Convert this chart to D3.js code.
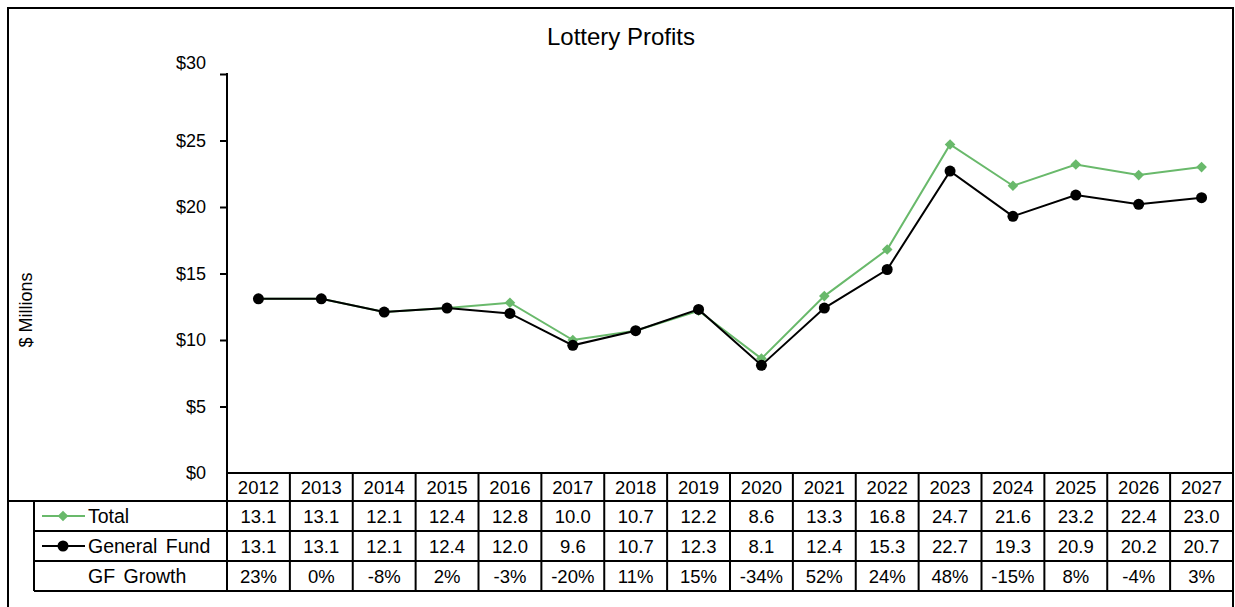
<!DOCTYPE html>
<html>
<head>
<meta charset="utf-8">
<script src="https://cdn.jsdelivr.net/npm/d3@7"></script>
<style>
  body { margin: 0; background: #fff; }
  text { font-family: "Liberation Sans", Arial, sans-serif; fill: #000; }
</style>
</head>
<body>
<script>
// chart data
var years = ["2012", "2013", "2014", "2015", "2016", "2017", "2018", "2019",
  "2020", "2021", "2022", "2023", "2024", "2025", "2026", "2027"];
var totalValues = [13.1, 13.1, 12.1, 12.4, 12.8, 10.0, 10.7, 12.2, 8.6, 13.3, 16.8, 24.7, 21.6, 23.2, 22.4, 23.0];
var gfValues = [13.1, 13.1, 12.1, 12.4, 12.0, 9.6, 10.7, 12.3, 8.1, 12.4, 15.3, 22.7, 19.3, 20.9, 20.2, 20.7];
var gfGrowth = ["23%", "0%", "-8%", "2%", "-3%", "-20%", "11%", "15%", "-34%", "52%", "24%", "48%", "-15%", "8%", "-4%", "3%"];
var yTicks = [0, 5, 10, 15, 20, 25, 30];

var svgWidth = 1235;
var svgHeight = 607;

var green = "#69b96b";

var svg = d3.select("body")
  .append("svg")
  .attr("width", svgWidth)
  .attr("height", svgHeight);

// outer frame (bottom runs off the picture)
svg.append("path")
  .attr("d", "M8,620V8H1233V620")
  .attr("fill", "none")
  .attr("stroke", "#000")
  .attr("stroke-width", 2);

// scales
var x = d3.scaleBand()
  .domain(years)
  .range([227, 1233]);

var y = d3.scaleLinear()
  .domain([0, 30])
  .range([473, 74]);

var cx = d => x(d) + x.bandwidth() / 2;

// title
svg.append("text")
  .attr("x", 621)
  .attr("y", 45)
  .attr("text-anchor", "middle")
  .style("font-size", "24px")
  .text("Lottery Profits");

// y axis label
svg.append("text")
  .attr("transform", "translate(32, 310) rotate(-90)")
  .attr("text-anchor", "middle")
  .style("font-size", "18px")
  .text("$ Millions");

// y axis
var leftAxis = d3.axisLeft(y)
  .tickValues(yTicks)
  .tickSize(7)
  .tickSizeOuter(0)
  .tickPadding(14)
  .tickFormat(d => "$" + d);

var axisG = svg.append("g")
  .attr("transform", "translate(227, 0)")
  .call(leftAxis);

axisG.select(".domain").remove();
axisG.selectAll(".tick line")
  .attr("stroke", "#000")
  .attr("stroke-width", 2)
  .filter(d => d === 0).remove();
axisG.selectAll(".tick text")
  .style("font-size", "18px")
  .style("font-family", "'Liberation Sans', Arial, sans-serif")
  .attr("dy", d => d === 30 ? "-0.3em" : "0.32em");

// axis line, continues down as the first table column line
svg.append("line")
  .attr("x1", 227).attr("x2", 227)
  .attr("y1", 73).attr("y2", 592)
  .attr("stroke", "#000")
  .attr("stroke-width", 2);

// data table
var headerTop = 473;
var rowTops = [501, 531, 561];
var tableBottom = 591;
var legendLeft = 34;

var tbl = svg.append("g")
  .attr("stroke", "#000")
  .attr("stroke-width", 2);

// horizontal lines
tbl.append("line").attr("x1", 227).attr("x2", 1233).attr("y1", headerTop).attr("y2", headerTop);
tbl.append("line").attr("x1", 8).attr("x2", 1233).attr("y1", rowTops[0]).attr("y2", rowTops[0]);
[rowTops[1], rowTops[2], tableBottom].forEach(function(yy) {
  tbl.append("line").attr("x1", legendLeft).attr("x2", 1233).attr("y1", yy).attr("y2", yy);
});

// vertical lines
tbl.append("line").attr("x1", legendLeft).attr("x2", legendLeft).attr("y1", rowTops[0]).attr("y2", tableBottom);
years.forEach(function(yr) {
  var xr = x(yr) + x.bandwidth();
  tbl.append("line").attr("x1", xr).attr("x2", xr).attr("y1", headerTop).attr("y2", tableBottom);
});

// header years
svg.selectAll(".yearLabel")
  .data(years)
  .enter()
  .append("text")
  .attr("class", "yearLabel")
  .attr("x", d => cx(d))
  .attr("y", headerTop + 21)
  .attr("text-anchor", "middle")
  .style("font-size", "18.5px")
  .text(d => d);

// table rows
var rows = [
  { label: "Total", values: totalValues.map(v => v.toFixed(1)) },
  { label: "General Fund", values: gfValues.map(v => v.toFixed(1)) },
  { label: "GF Growth", values: gfGrowth }
];

rows.forEach(function(row, i) {
  var top = rowTops[i];
  svg.append("text")
    .attr("x", 88)
    .attr("y", top + 22)
    .style("font-size", "19.5px")
    .style("word-spacing", "3px")
    .text(row.label);

  svg.selectAll(".cell" + i)
    .data(row.values)
    .enter()
    .append("text")
    .attr("x", (d, j) => cx(years[j]))
    .attr("y", top + 22)
    .attr("text-anchor", "middle")
    .style("font-size", "18.5px")
    .text(d => d);
});

// legend keys
var diamond = d3.symbol().type(d3.symbolDiamond2).size(72);

svg.append("line")
  .attr("x1", 42).attr("x2", 85)
  .attr("y1", rowTops[0] + 15).attr("y2", rowTops[0] + 15)
  .attr("stroke", green).attr("stroke-width", 2);
svg.append("path")
  .attr("d", diamond())
  .attr("transform", `translate(63, ${rowTops[0] + 15})`)
  .attr("fill", green);

svg.append("line")
  .attr("x1", 42).attr("x2", 85)
  .attr("y1", rowTops[1] + 15).attr("y2", rowTops[1] + 15)
  .attr("stroke", "#000").attr("stroke-width", 2);
svg.append("circle")
  .attr("cx", 63).attr("cy", rowTops[1] + 15)
  .attr("r", 5.5)
  .attr("fill", "#000");

// lines
var seriesLine = d3.line()
  .x((d, i) => cx(years[i]))
  .y(d => y(d));

svg.append("path")
  .datum(totalValues)
  .attr("d", seriesLine)
  .attr("fill", "none")
  .attr("stroke", green)
  .attr("stroke-width", 2);

svg.selectAll(".totalPt")
  .data(totalValues)
  .enter()
  .append("path")
  .attr("class", "totalPt")
  .attr("d", diamond())
  .attr("transform", (d, i) => `translate(${cx(years[i])}, ${y(d)})`)
  .attr("fill", green);

svg.append("path")
  .datum(gfValues)
  .attr("d", seriesLine)
  .attr("fill", "none")
  .attr("stroke", "#000")
  .attr("stroke-width", 2);

svg.selectAll(".gfPt")
  .data(gfValues)
  .enter()
  .append("circle")
  .attr("class", "gfPt")
  .attr("cx", (d, i) => cx(years[i]))
  .attr("cy", d => y(d))
  .attr("r", 5.5)
  .attr("fill", "#000");
</script>
</body>
</html>
